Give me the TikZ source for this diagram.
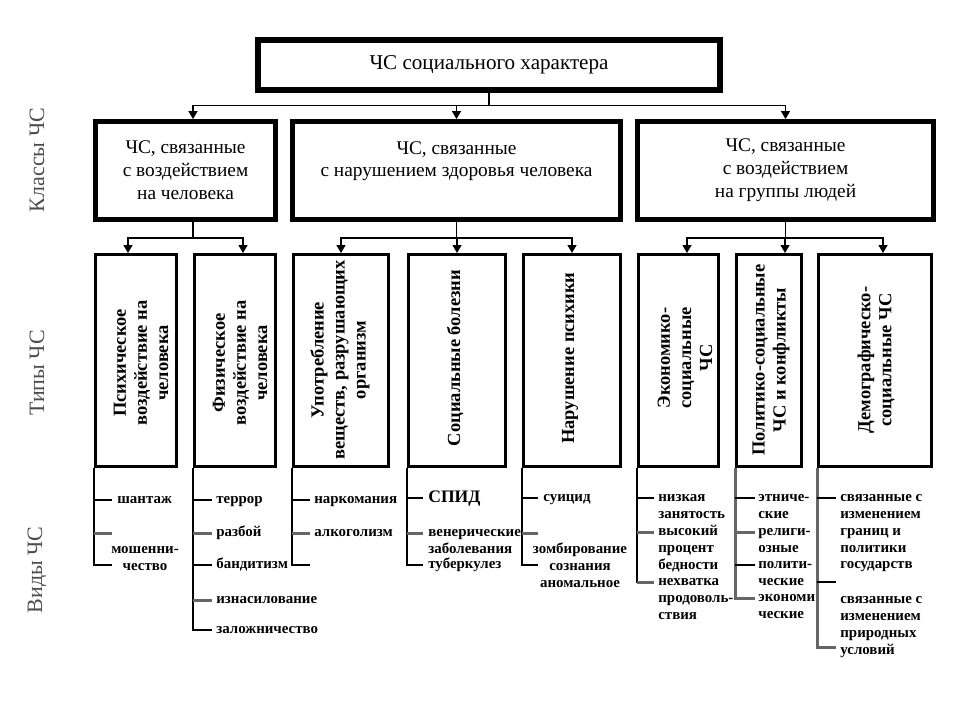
\documentclass[tikz,border=0pt]{standalone}
\usepackage{fontspec}
\setmainfont{Liberation Serif}
\usetikzlibrary{arrows.meta,positioning}
\newcommand{\lftxt}[1]{\begin{tabular}[t]{@{}l@{}}#1\end{tabular}}
\newcommand{\lfmid}[1]{\begin{tabular}[t]{@{}c@{}}#1\end{tabular}}
\tikzset{
  topbox/.style={ draw, line width=2.6pt, minimum width=92.6mm, minimum height=10.2mm, inner sep=0pt, font=\fontsize{12}{14}\selectfont }
}
\tikzset{
  clbox/.style={ draw, line width=2.2pt, minimum height=19.8mm, inner sep=0pt, align=center, font=\fontsize{11}{13}\selectfont }
}
\tikzset{
  tybox/.style={ draw, line width=1.7pt, minimum height=42.4mm, inner sep=0pt }
}
\tikzset{
  tytext/.style={ rotate=90, align=center, font=\fontsize{10.5}{12}\selectfont\bfseries }
}
\tikzset{
  leaf/.style={ anchor=base west, inner sep=0pt, font=\fontsize{8.5}{9.6}\selectfont\bfseries }
}
\tikzset{
  side/.style={ rotate=90, text=black!70, font=\fontsize{12.5}{14}\selectfont }
}
\tikzset{
  arr/.style={ -{Triangle[length=1.6mm,width=1.8mm]}, line width=0.75pt }
}
\tikzset{
  trunk/.style={ line width=0.8pt }
}
\tikzset{
  gtick/.style={ line width=1.7pt, black!60 }
}
\begin{document}
\begin{tikzpicture}[x=0.2mm, y=0.2mm]
  \useasboundingbox (0,0) rectangle (960,-720);

  % levels
  \node[side] (sk) at (37,-160) {Классы ЧС};
  \node[side] (st) at (37,-373) {Типы ЧС};
  \node[side] (sv) at (37,-570) {Виды ЧС};

  % root
  \node[topbox] (top) at (489,-65) {ЧС социального характера};
  \draw[line width=0.8pt] ([shift={(5,-5)}]top.north west) rectangle ([shift={(-5,5)}]top.south east);

  % classes
  \node[clbox, minimum width=36.2mm] (cl1) at (185.5,-170.5) {ЧС, связанные\\с воздействием\\на человека};
  \node[clbox, minimum width=65.8mm] (cl2) at (456.5,-170.5) {ЧС, связанные\\с нарушением здоровья человека\\~};
  \node[clbox, minimum width=59.4mm] (cl3) at (785.5,-170.5) {ЧС, связанные\\с воздействием\\на группы людей};
  \draw[line width=0.6pt] ([shift={(4.5,-4.5)}]cl1.north west) rectangle ([shift={(-4.5,4.5)}]cl1.south east);
  \draw[line width=0.6pt] ([shift={(4.5,-4.5)}]cl2.north west) rectangle ([shift={(-4.5,4.5)}]cl2.south east);
  \draw[line width=0.6pt] ([shift={(4.5,-4.5)}]cl3.north west) rectangle ([shift={(-4.5,4.5)}]cl3.south east);
  \draw[arr] (top.south) -- ++(0,-13) -| ([xshift=1.5mm]cl1.north);
  \draw[arr] (top.south) -- ++(0,-13) -| (cl2.north);
  \draw[arr] (top.south) -- ++(0,-13) -| (cl3.north);

  % types
  \node[tybox, minimum width=16.2mm] (tA) at (136,-360.5) {};
  \node[tybox, minimum width=16.2mm] (tB) at (235,-360.5) {};
  \node[tybox, minimum width=19mm] (tC) at (341,-360.5) {};
  \node[tybox, minimum width=19.4mm] (tD) at (457,-360.5) {};
  \node[tybox, minimum width=19.4mm] (tE) at (572,-360.5) {};
  \node[tybox, minimum width=16mm] (tF) at (678.5,-360.5) {};
  \node[tybox, minimum width=13mm] (tG) at (769,-360.5) {};
  \node[tybox, minimum width=22.6mm] (tH) at (875,-360.5) {};
  \node[tytext] (xA) at (141,-363) {Психическое\\воздействие на\\человека};
  \node[tytext] (xB) at (240,-363) {Физическое\\воздействие на\\человека};
  \node[tytext] (xC) at (340,-360) {Употребление\\веществ, разрушающих\\организм};
  \node[tytext] (xD) at (455,-358) {Социальные болезни};
  \node[tytext] (xE) at (570,-358) {Нарушение психики};
  \node[tytext] (xF) at (685,-358) {Экономико-\\социальные\\ЧС};
  \node[tytext] (xG) at (771,-360) {Политико-социальные\\ЧС и конфликты};
  \node[tytext] (xH) at (876,-360) {Демографическо-\\социальные ЧС};

  \draw[arr] ([xshift=1.5mm]cl1.south) -- ++(0,-16) -| ([xshift=-1.6mm]tA.north);
  \draw[arr] ([xshift=1.5mm]cl1.south) -- ++(0,-16) -| ([xshift=1.6mm]tB.north);
  \draw[arr] (cl2.south) -- ++(0,-16) -| (tC.north);
  \draw[arr] (cl2.south) -- ++(0,-16) -| (tD.north);
  \draw[arr] (cl2.south) -- ++(0,-16) -| (tE.north);
  \draw[arr] (cl3.south) -- ++(0,-16) -| ([xshift=1.7mm]tF.north);
  \draw[arr] (cl3.south) -- ++(0,-16) -| ([xshift=3.2mm]tG.north);
  \draw[arr] (cl3.south) -- ++(0,-16) -| ([xshift=1.6mm]tH.north);

  % kinds: A
  \coordinate (a1) at (112,-500);
  \coordinate (a2) at (112,-533);
  \coordinate (a3) at (112,-565);
  \draw[trunk] (tA.south west) |- (a3);
  \draw[trunk] (tA.south west |- a1) -- (a1);
  \draw[gtick] (tA.south west |- a2) -- (a2);
  \node[leaf] (lA1) at (117,-503.5) {шантаж};
  \node[leaf, anchor=base] (lA2) at (145,-553.5) {\lfmid{мошенни-\\чество}};

  % kinds: B
  \coordinate (b1) at (212,-500);
  \coordinate (b2) at (212,-533);
  \coordinate (b3) at (212,-565);
  \coordinate (b4) at (212,-600);
  \coordinate (b5) at (212,-630);
  \draw[trunk] (tB.south west) |- (b5);
  \draw[trunk] (tB.south west |- b1) -- (b1);
  \draw[gtick] (tB.south west |- b2) -- (b2);
  \draw[trunk] (tB.south west |- b3) -- (b3);
  \draw[gtick] (tB.south west |- b4) -- (b4);
  \node[leaf] (lB1) at (216,-503.5) {террор};
  \node[leaf] (lB2) at (216,-536.5) {разбой};
  \node[leaf] (lB3) at (216,-568.5) {бандитизм};
  \node[leaf] (lB4) at (216,-603.5) {изнасилование};
  \node[leaf] (lB5) at (216,-633.5) {заложничество};

  % kinds: C
  \coordinate (c1) at (310,-500);
  \coordinate (c2) at (310,-533);
  \coordinate (c3) at (310,-565);
  \draw[trunk] (tC.south west) |- (c3);
  \draw[trunk] (tC.south west |- c1) -- (c1);
  \draw[gtick] (tC.south west |- c2) -- (c2);
  \node[leaf] (lC1) at (314,-503.5) {наркомания};
  \node[leaf] (lC2) at (314,-536.5) {алкоголизм};

  % kinds: D
  \coordinate (d1) at (423,-498);
  \coordinate (d2) at (423,-533);
  \coordinate (d3) at (423,-565);
  \draw[trunk] (tD.south west) |- (d3);
  \draw[trunk] (tD.south west |- d1) -- (d1);
  \draw[gtick] (tD.south west |- d2) -- (d2);
  \node[leaf, font=\fontsize{10}{11}\selectfont\bfseries] (lD1) at (428,-502.5) {СПИД};
  \node[leaf] (lD2) at (428,-536.5) {\lftxt{венерические\\заболевания}};
  \node[leaf] (lD3) at (428,-568.5) {туберкулез};

  % kinds: E
  \coordinate (e1) at (538,-498);
  \coordinate (e2) at (538,-533);
  \coordinate (e3) at (538,-565);
  \draw[trunk] (tE.south west) |- (e3);
  \draw[trunk] (tE.south west |- e1) -- (e1);
  \draw[gtick] (tE.south west |- e2) -- (e2);
  \node[leaf] (lE1) at (543,-501.5) {суицид};
  \node[leaf, anchor=base] (lE2) at (580,-553.5) {\lfmid{зомбирование\\сознания\\аномальное}};

  % kinds: F
  \coordinate (f1) at (654,-498);
  \coordinate (f2) at (654,-532);
  \coordinate (f3) at (654,-582);
  \draw[trunk] (tF.south west) |- (f3);
  \draw[trunk] (tF.south west |- f1) -- (f1);
  \draw[gtick] (tF.south west |- f2) -- (f2);
  \draw[gtick] (tF.south west |- f3) -- (f3);
  \node[leaf] (lF1) at (658,-501.5) {\lftxt{низкая\\занятость}};
  \node[leaf] (lF2) at (658,-535.5) {\lftxt{высокий\\процент\\бедности}};
  \node[leaf] (lF3) at (658,-585.5) {\lftxt{нехватка\\продоволь-\\ствия}};

  % kinds: G
  \coordinate (g1) at (755,-498);
  \coordinate (g2) at (755,-532);
  \coordinate (g3) at (755,-565);
  \coordinate (g4) at (755,-598);
  \draw[gtick] (tG.south west) |- (g4);
  \draw[trunk] (tG.south west |- g1) -- (g1);
  \draw[gtick] (tG.south west |- g2) -- (g2);
  \draw[trunk] (tG.south west |- g3) -- (g3);
  \node[leaf] (lG1) at (758,-501.5) {\lftxt{этниче-\\ские}};
  \node[leaf] (lG2) at (758,-535.5) {\lftxt{религи-\\озные}};
  \node[leaf] (lG3) at (758,-568.5) {\lftxt{полити-\\ческие}};
  \node[leaf] (lG4) at (758,-601.5) {\lftxt{экономи\\ческие}};

  % kinds: H
  \coordinate (h1) at (836,-498);
  \coordinate (h2) at (836,-582);
  \coordinate (h3) at (836,-647);
  \draw[gtick] (tH.south west) |- (h3);
  \draw[trunk] (tH.south west |- h1) -- (h1);
  \draw[trunk] (tH.south west |- h2) -- (h2);
  \node[leaf] (lH1) at (840,-501.5) {\lftxt{связанные с\\изменением\\границ и\\политики\\государств}};
  \node[leaf] (lH2) at (840,-603.5) {\lftxt{связанные с\\изменением\\природных\\условий}};
\end{tikzpicture}
\end{document}
